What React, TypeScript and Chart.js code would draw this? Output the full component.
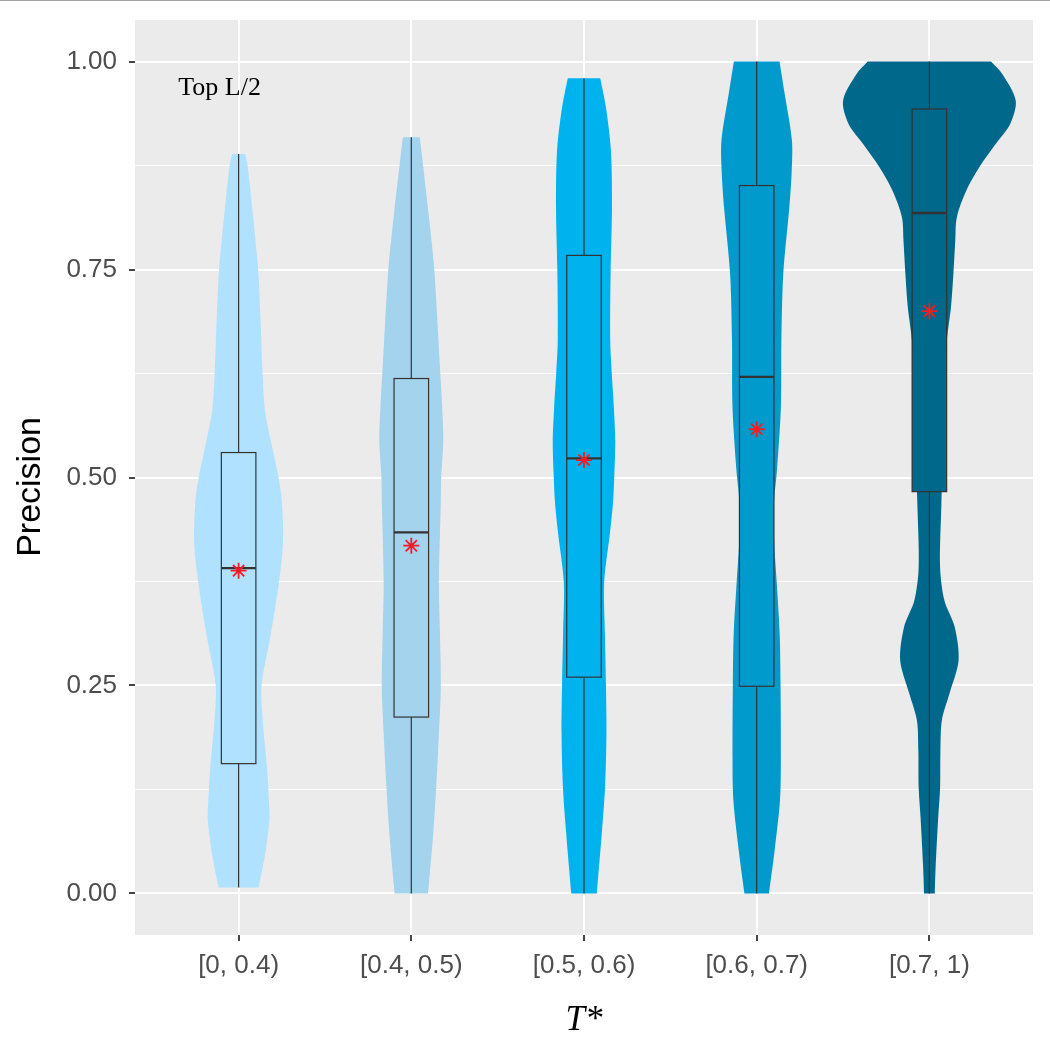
import React, { useEffect, useRef } from 'react';
import { Chart, registerables } from 'chart.js';

Chart.register(...registerables);

// ---------------- data ----------------
const CATEGORIES = ['[0, 0.4)', '[0.4, 0.5)', '[0.5, 0.6)', '[0.6, 0.7)', '[0.7, 1)'];
const COLORS = ['#B0E2FF', '#A4D3EE', '#00B2EE', '#009ACD', '#00688B'];
const Y_TICKS = [0, 0.125, 0.25, 0.375, 0.5, 0.625, 0.75, 0.875, 1];

const WHISKER_LOW = [0.007, 0, 0, 0, 0];
const Q1 = [0.156, 0.212, 0.26, 0.249, 0.483];
const MEDIAN = [0.391, 0.434, 0.523, 0.621, 0.818];
const Q3 = [0.53, 0.619, 0.767, 0.851, 0.943];
const WHISKER_HIGH = [0.889, 0.909, 0.98, 1.0, 1.0];
const MEANS = [0.388, 0.418, 0.521, 0.558, 0.7];

// violin density outlines: y levels and half-widths (in category units)
const V1_Y = [0.007, 0.05, 0.09, 0.11, 0.15, 0.21, 0.25, 0.31, 0.37, 0.42, 0.47, 0.5, 0.54, 0.58, 0.625, 0.69, 0.75, 0.82, 0.875, 0.889];
const V1_W = [0.116, 0.156, 0.179, 0.176, 0.165, 0.139, 0.133, 0.185, 0.231, 0.257, 0.251, 0.231, 0.191, 0.153, 0.139, 0.127, 0.113, 0.081, 0.052, 0.038];

const V2_Y = [0, 0.072, 0.124, 0.192, 0.248, 0.3125, 0.374, 0.472, 0.5, 0.544, 0.584, 0.625, 0.75, 0.81, 0.874, 0.909];
const V2_W = [0.097, 0.127, 0.143, 0.16, 0.171, 0.166, 0.16, 0.171, 0.173, 0.185, 0.179, 0.168, 0.133, 0.104, 0.069, 0.049];

const V3_Y = [0, 0.072, 0.124, 0.192, 0.252, 0.3125, 0.374, 0.433, 0.47, 0.505, 0.544, 0.584, 0.625, 0.665, 0.745, 0.825, 0.893, 0.945, 0.98];
const V3_W = [0.074, 0.103, 0.121, 0.13, 0.127, 0.121, 0.117, 0.15, 0.168, 0.176, 0.181, 0.173, 0.161, 0.152, 0.154, 0.162, 0.156, 0.127, 0.094];

const V4_Y = [0, 0.052, 0.112, 0.163, 0.252, 0.3125, 0.374, 0.424, 0.472, 0.505, 0.584, 0.665, 0.745, 0.825, 0.865, 0.905, 0.965, 1.0];
const V4_W = [0.071, 0.104, 0.135, 0.14, 0.138, 0.133, 0.116, 0.101, 0.101, 0.116, 0.14, 0.143, 0.154, 0.189, 0.202, 0.204, 0.159, 0.132];

const V5_Y = [0, 0.031, 0.091, 0.127, 0.172, 0.208, 0.24, 0.28, 0.32, 0.352, 0.392, 0.464, 0.544, 0.625, 0.665, 0.705, 0.745, 0.785, 0.813, 0.845, 0.873, 0.905, 0.925, 0.953, 0.985, 1.0];
const V5_W = [0.031, 0.036, 0.051, 0.062, 0.064, 0.072, 0.116, 0.169, 0.147, 0.087, 0.062, 0.069, 0.081, 0.09, 0.101, 0.125, 0.139, 0.15, 0.159, 0.214, 0.289, 0.399, 0.468, 0.5, 0.422, 0.357];

const VIOLIN_Y = [V1_Y, V2_Y, V3_Y, V4_Y, V5_Y];
const VIOLIN_W = [V1_W, V2_W, V3_W, V4_W, V5_W];

const ANNOTATION_TEXT = 'Top L/2';
const ANNOTATION_X = 0.89;
const ANNOTATION_Y = 0.9675;

// ---------------- styles ----------------
const BOX_WIDTH = 0.2;
const PANEL_BG = '#EBEBEB';
const AXIS_TEXT = '#4D4D4D';
const LINE_DARK = '#333333';

const isMajor = (v: number) => Math.abs(v * 4 - Math.round(v * 4)) < 1e-6;

// closed outline: left side bottom->top, right side top->bottom;
// the end points are doubled so the flat top/bottom edges keep sharp corners
function violinOutline(i: number) {
  const c = i + 1;
  const ys = VIOLIN_Y[i];
  const ws = VIOLIN_W[i];
  const left = ys.map((y, k) => ({ x: c - ws[k], y }));
  const right = ys.map((y, k) => ({ x: c + ws[k], y })).reverse();
  const dupEnds = (arr: { x: number; y: number }[]) => [arr[0], ...arr, arr[arr.length - 1]];
  return [...dupEnds(left), ...dupEnds(right)];
}

const boxPlugin = {
  id: 'violinBoxes',
  beforeDraw(chart: any) {
    const { ctx, chartArea } = chart;
    ctx.save();
    ctx.fillStyle = '#FFFFFF';
    ctx.fillRect(0, 0, chart.width, chart.height);
    ctx.fillStyle = '#A0A0A0';
    ctx.fillRect(0, 0, chart.width, 1);
    ctx.fillStyle = PANEL_BG;
    ctx.fillRect(chartArea.left, chartArea.top, chartArea.right - chartArea.left, chartArea.bottom - chartArea.top);
    ctx.restore();
  },
  beforeDatasetDraw(chart: any, args: any) {
    if (args.index !== 0) return;
    const { ctx } = chart;
    const xs = chart.scales.x;
    const ys = chart.scales.y;
    ctx.save();
    ctx.strokeStyle = LINE_DARK;
    for (let i = 0; i < CATEGORIES.length; i++) {
      const cx = xs.getPixelForValue(i + 1);
      const half = xs.getPixelForValue(i + 1 + BOX_WIDTH / 2) - cx;
      const yLow = ys.getPixelForValue(WHISKER_LOW[i]);
      const yQ1 = ys.getPixelForValue(Q1[i]);
      const yMed = ys.getPixelForValue(MEDIAN[i]);
      const yQ3 = ys.getPixelForValue(Q3[i]);
      const yHigh = ys.getPixelForValue(WHISKER_HIGH[i]);
      ctx.lineWidth = 1.2;
      ctx.beginPath();
      ctx.moveTo(cx, yHigh);
      ctx.lineTo(cx, yQ3);
      ctx.moveTo(cx, yQ1);
      ctx.lineTo(cx, yLow);
      ctx.stroke();
      ctx.fillStyle = COLORS[i];
      ctx.fillRect(cx - half, yQ3, 2 * half, yQ1 - yQ3);
      ctx.strokeRect(cx - half, yQ3, 2 * half, yQ1 - yQ3);
      ctx.lineWidth = 2.4;
      ctx.beginPath();
      ctx.moveTo(cx - half, yMed);
      ctx.lineTo(cx + half, yMed);
      ctx.stroke();
    }
    ctx.restore();
  },
  afterDatasetsDraw(chart: any) {
    const { ctx } = chart;
    const px = chart.scales.x.getPixelForValue(ANNOTATION_X);
    const py = chart.scales.y.getPixelForValue(ANNOTATION_Y);
    ctx.save();
    ctx.fillStyle = '#000000';
    ctx.font = '26px "Liberation Serif", "Times New Roman", serif';
    ctx.textAlign = 'center';
    ctx.textBaseline = 'middle';
    ctx.fillText(ANNOTATION_TEXT, px, py);
    ctx.restore();
  },
};

export default function App() {
  const ref = useRef<HTMLCanvasElement>(null);

  useEffect(() => {
    const canvas = ref.current;
    if (!canvas) return;

    const violinDatasets = CATEGORIES.map((_, i) => ({
      type: 'line' as const,
      label: CATEGORIES[i],
      data: violinOutline(i),
      showLine: true,
      fill: 'shape',
      backgroundColor: COLORS[i],
      borderColor: COLORS[i],
      borderWidth: 0,
      pointRadius: 0,
      tension: 0.3,
    }));

    const meanDataset = {
      type: 'scatter' as const,
      label: 'mean',
      data: MEANS.map((m, i) => ({ x: i + 1, y: m })),
      pointStyle: 'star',
      pointRadius: 8,
      pointBorderWidth: 1.8,
      pointBorderColor: '#F21D24',
      pointBackgroundColor: '#F21D24',
      showLine: false,
    };

    const chart = new Chart(canvas, {
      type: 'scatter',
      data: { datasets: [meanDataset as any, ...(violinDatasets as any[])] },
      options: {
        animation: false,
        responsive: false,
        maintainAspectRatio: false,
        devicePixelRatio: 1,
        events: [],
        layout: { padding: { left: 0, right: 17, top: 20, bottom: 0 } },
        plugins: { legend: { display: false }, tooltip: { enabled: false } },
        scales: {
          x: {
            type: 'linear',
            min: 0.4,
            max: 5.6,
            afterBuildTicks: (axis: any) => {
              axis.ticks = CATEGORIES.map((_, i) => ({ value: i + 1 }));
            },
            afterFit: (scale: any) => {
              scale.height = 115;
              scale.paddingLeft = 0;
              scale.paddingRight = 0;
            },
            border: { display: false },
            grid: {
              color: '#FFFFFF',
              lineWidth: 2,
              drawTicks: true,
              tickLength: 6,
              tickColor: LINE_DARK,
              tickWidth: 1.8,
            },
            ticks: {
              autoSkip: false,
              maxRotation: 0,
              padding: 9,
              color: AXIS_TEXT,
              font: { family: '"Liberation Sans", Arial, sans-serif', size: 26 },
              callback: (v: any) => {
                const idx = Math.round(Number(v)) - 1;
                return CATEGORIES[idx] ?? '';
              },
            },
            title: {
              display: true,
              text: 'T*',
              color: '#000000',
              font: { family: '"Liberation Serif", "Times New Roman", serif', size: 35, style: 'italic' },
              padding: { top: 0, bottom: 8 },
            },
          },
          y: {
            type: 'linear',
            min: -0.05,
            max: 1.05,
            afterBuildTicks: (axis: any) => {
              axis.ticks = Y_TICKS.map((v) => ({ value: v }));
            },
            afterFit: (scale: any) => {
              scale.width = 135;
              scale.paddingTop = 0;
              scale.paddingBottom = 0;
            },
            border: { display: false },
            grid: {
              color: '#FFFFFF',
              lineWidth: (c: any) => (c.tick && isMajor(c.tick.value) ? 2 : 1),
              drawTicks: true,
              tickLength: 6,
              tickColor: (c: any) => (c.tick && isMajor(c.tick.value) ? LINE_DARK : 'rgba(0,0,0,0)'),
              tickWidth: 1.8,
            },
            ticks: {
              autoSkip: false,
              padding: 12,
              color: AXIS_TEXT,
              font: { family: '"Liberation Sans", Arial, sans-serif', size: 26 },
              callback: (v: any) => (isMajor(Number(v)) ? Number(v).toFixed(2) : ''),
            },
            title: {
              display: true,
              text: 'Precision  ',
              color: '#000000',
              font: { family: '"Liberation Sans", Arial, sans-serif', size: 34 },
              padding: { top: 10.6, bottom: 0 },
            },
          },
        },
      } as any,
      plugins: [boxPlugin],
    });

    return () => chart.destroy();
  }, []);

  return (
    <div style={{ position: 'absolute', left: 0, top: 0, width: 1050, height: 1050, background: '#FFFFFF' }}>
      <canvas ref={ref} width={1050} height={1050} style={{ display: 'block', width: 1050, height: 1050 }} />
    </div>
  );
}
